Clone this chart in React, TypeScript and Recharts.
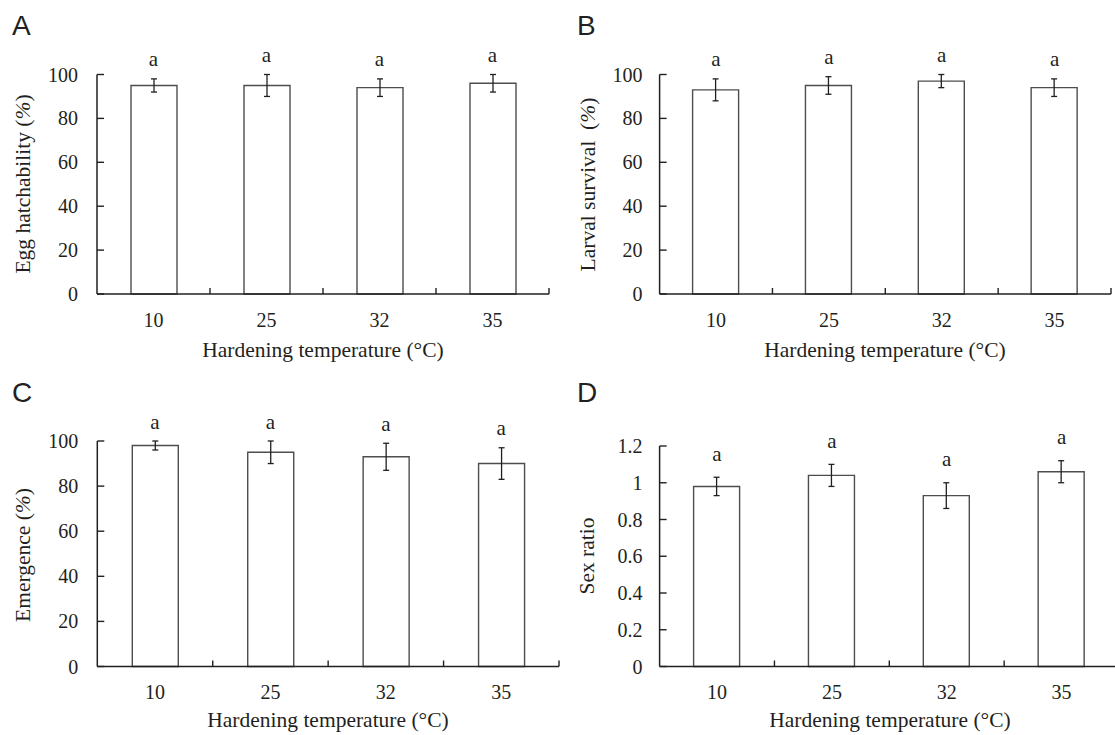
import React from 'react'
import { ComposedChart, Bar, ErrorBar, Scatter, XAxis, YAxis } from 'recharts'

const temperatures = ['10', '25', '32', '35']

const eggHatchability = [95, 95, 94, 96]
const eggHatchabilityErr = [3, 5, 4, 4]
const larvalSurvival = [93, 95, 97, 94]
const larvalSurvivalErr = [5, 4, 3, 4]
const emergence = [98, 95, 93, 90]
const emergenceErr = [2, 5, 6, 7]
const sexRatio = [0.98, 1.04, 0.93, 1.06]
const sexRatioErr = [0.05, 0.06, 0.07, 0.06]
const letters = ['a', 'a', 'a', 'a']

const percentTicks = [0, 20, 40, 60, 80, 100]
const ratioTicks = [0, 0.2, 0.4, 0.6, 0.8, 1, 1.2]

const SERIF = "'Liberation Serif', 'Times New Roman', Times, serif"
const SANS = "'Liberation Sans', Arial, Helvetica, sans-serif"
const INK = '#231f20'

function buildRows(values: number[], errs: number[]) {
  return temperatures.map((t, i) => ({
    temp: t,
    value: values[i],
    err: errs[i],
    top: values[i] + errs[i],
    letter: letters[i],
  }))
}

interface PanelProps {
  rows: ReturnType<typeof buildRows>
  ticks: number[]
  left: number
  top: number
  x0: number
  x1: number
  yTop: number
  yBot: number
  labelGap: number
  letterLift: number
}

function Panel({ rows, ticks, left, top, x0, x1, yTop, yBot, labelGap, letterLift }: PanelProps) {
  const width = x1 - left + 12
  const height = yBot - top + 70
  const yAxisW = 60
  const xAxisH = 50
  const halfBand = (x1 - x0) / rows.length / 2

  const xTick = (p: any) => {
    const { x, y, payload } = p
    return (
      <g>
        <line x1={x + halfBand} x2={x + halfBand} y1={y} y2={y - 6} stroke={INK} strokeWidth={1.4} />
        <text x={x} y={y + 32.5} textAnchor="middle" fontFamily={SERIF} fontSize={20} fill={INK}>
          {payload.value}
        </text>
      </g>
    )
  }

  const yTick = (p: any) => {
    const { x, y, payload } = p
    const axisX = x + labelGap
    return (
      <g>
        <line x1={axisX} x2={axisX + 7} y1={y} y2={y} stroke={INK} strokeWidth={1.4} />
        <text x={x} y={y} dy="0.35em" textAnchor="end" fontFamily={SERIF} fontSize={20} fill={INK}>
          {String(payload.value)}
        </text>
      </g>
    )
  }

  return (
    <div style={{ position: 'absolute', left, top }}>
      <ComposedChart
        width={width}
        height={height}
        data={rows}
        margin={{
          top: yTop - top,
          right: width - (x1 - left),
          left: x0 - left - yAxisW,
          bottom: height - (yBot - top) - xAxisH,
        }}
      >
        <XAxis
          dataKey="temp"
          height={xAxisH}
          interval={0}
          tickLine={false}
          tickSize={0}
          tickMargin={0}
          axisLine={{ stroke: INK, strokeWidth: 1.5 }}
          tick={xTick}
        />
        <YAxis
          type="number"
          width={yAxisW}
          domain={[ticks[0], ticks[ticks.length - 1]]}
          ticks={ticks}
          interval={0}
          tickLine={false}
          tickSize={0}
          tickMargin={labelGap}
          axisLine={{ stroke: INK, strokeWidth: 1.5 }}
          tick={yTick}
        />
        <Bar dataKey="value" barSize={46} fill="#ffffff" stroke="#4d4d4d" strokeWidth={1.4} isAnimationActive={false}>
          <ErrorBar dataKey="err" width={3} stroke={INK} strokeWidth={1.3} isAnimationActive={false} />
        </Bar>
        <Scatter
          dataKey="top"
          isAnimationActive={false}
          shape={(p: any) => (
            <text x={p.cx} y={p.cy - letterLift} textAnchor="middle" fontFamily={SERIF} fontSize={21} fill={INK}>
              {p.payload.letter}
            </text>
          )}
        />
      </ComposedChart>
    </div>
  )
}

function YTitle({ cx, cy, children }: { cx: number; cy: number; children: React.ReactNode }) {
  return (
    <text
      x={cx}
      y={cy}
      transform={`rotate(-90 ${cx} ${cy})`}
      textAnchor="middle"
      dominantBaseline="central"
      fontFamily={SERIF}
      fontSize={21.5}
      fill={INK}
      style={{ whiteSpace: 'pre' }}
    >
      {children}
    </text>
  )
}

function XTitle({ cx, y }: { cx: number; y: number }) {
  return (
    <text x={cx} y={y} textAnchor="middle" fontFamily={SERIF} fontSize={21.5} fill={INK}>
      Hardening temperature (°C)
    </text>
  )
}

function PanelLetter({ x, y, children }: { x: number; y: number; children: React.ReactNode }) {
  return (
    <text x={x} y={y} fontFamily={SANS} fontSize={28} fill={INK}>
      {children}
    </text>
  )
}

export default function App() {
  return (
    <div
      style={{
        position: 'absolute',
        left: 0,
        top: 0,
        width: 1115,
        height: 735,
        overflow: 'hidden',
        background: '#ffffff',
      }}
    >
      <Panel rows={buildRows(eggHatchability, eggHatchabilityErr)} ticks={percentTicks}
        left={0} top={0} x0={97} x1={549} yTop={74.5} yBot={294} labelGap={19} letterLift={12.5} />
      <Panel rows={buildRows(larvalSurvival, larvalSurvivalErr)} ticks={percentTicks}
        left={560} top={0} x0={659.6} x1={1111} yTop={74.5} yBot={294} labelGap={17} letterLift={12.5} />
      <Panel rows={buildRows(emergence, emergenceErr)} ticks={percentTicks}
        left={0} top={368} x0={97.3} x1={559} yTop={441} yBot={666.5} labelGap={19} letterLift={12.5} />
      <Panel rows={buildRows(sexRatio, sexRatioErr)} ticks={ratioTicks}
        left={560} top={368} x0={659.6} x1={1119} yTop={446} yBot={666.5} labelGap={17} letterLift={16.5} />

      <svg width={1115} height={735} style={{ position: 'absolute', left: 0, top: 0, pointerEvents: 'none' }}>
        <PanelLetter x={12} y={35}>A</PanelLetter>
        <PanelLetter x={577} y={35}>B</PanelLetter>
        <PanelLetter x={12} y={402}>C</PanelLetter>
        <PanelLetter x={577} y={402}>D</PanelLetter>

        <YTitle cx={23} cy={184}>
          Egg hatchability (<tspan fontStyle="italic">%</tspan>)
        </YTitle>
        <YTitle cx={588} cy={184.5}>
          {'Larval survival  ('}<tspan fontStyle="italic">%</tspan>)
        </YTitle>
        <YTitle cx={23} cy={555}>
          Emergence (<tspan fontStyle="italic">%</tspan>)
        </YTitle>
        <YTitle cx={587} cy={556}>Sex ratio</YTitle>

        <XTitle cx={323} y={357} />
        <XTitle cx={885} y={357} />
        <XTitle cx={328} y={727} />
        <XTitle cx={890} y={727} />
      </svg>
    </div>
  )
}
